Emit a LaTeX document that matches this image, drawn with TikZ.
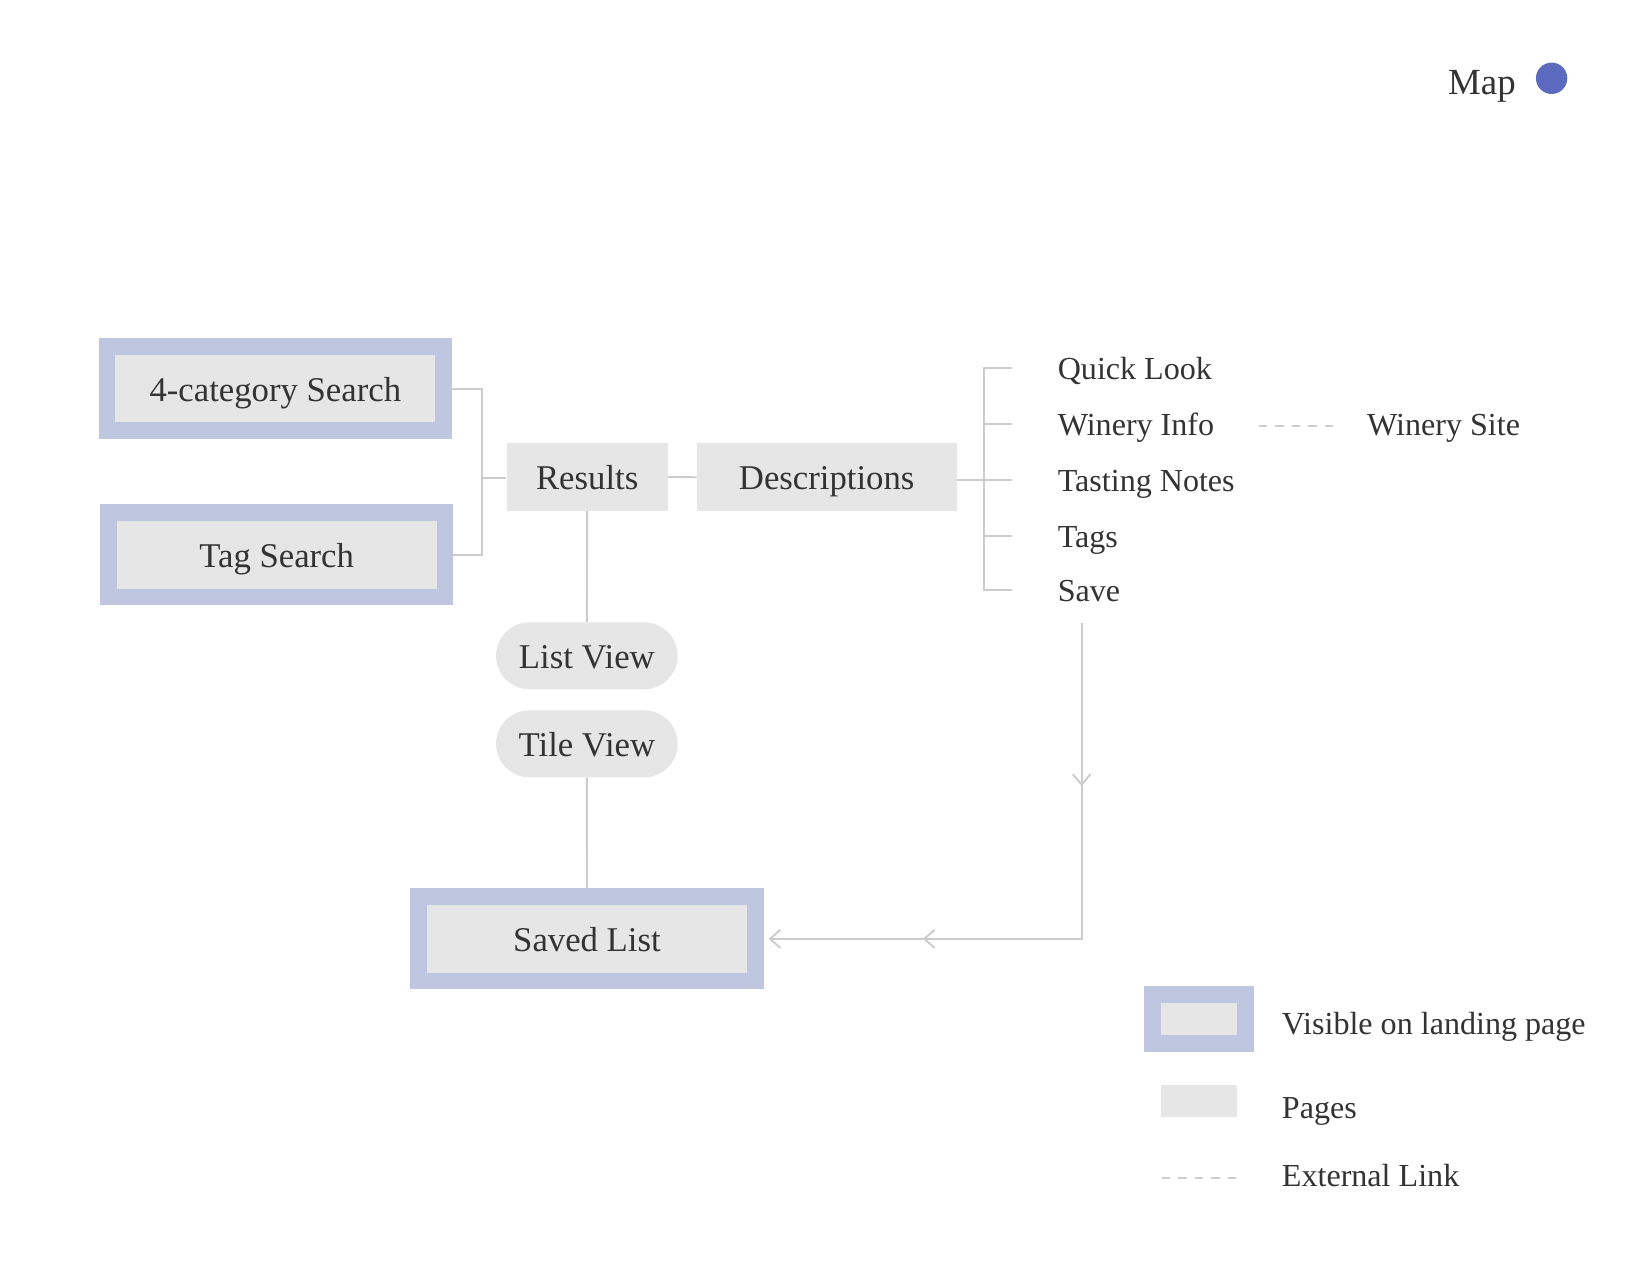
\documentclass[tikz,border=0pt]{standalone}
\usepackage{fontspec}
\setmainfont{Liberation Serif}
\usetikzlibrary{arrows.meta,decorations.markings}
\definecolor{lavender}{RGB}{191,198,224}
\definecolor{pagegray}{RGB}{230,230,230}
\definecolor{linegray}{RGB}{204,204,204}
\definecolor{ink}{RGB}{51,51,51}
\definecolor{mapdot}{RGB}{92,106,191}
\begin{document}
\begin{tikzpicture}[x=1pt,y=-1pt,
  chev/.tip={Straight Barb[length=10pt,width=17pt]},
  boxtext/.style={font=\fontsize{33pt}{40pt}\selectfont, text=ink, text height=24pt, text depth=0pt},
  landing/.style={boxtext, draw=lavender, line width=16pt, fill=pagegray, inner sep=0pt, minimum width=320pt, minimum height=80pt},
  pagebox/.style={boxtext, fill=pagegray, inner sep=0pt, minimum height=64.6pt},
  pill/.style={pagebox, rounded corners=31.8pt, minimum width=172.6pt, minimum height=63.6pt},
  sidetext/.style={anchor=west, inner sep=0pt, font=\fontsize{30.5pt}{38pt}\selectfont, text=ink, text height=22pt, text depth=0pt},
  conn/.style={color=linegray, line width=1.8pt},
  extlink/.style={color=linegray, line width=1.7pt, dash pattern=on 8pt off 7.7pt},
]
\fill[white] (0,0) rectangle (1568,1211.7);
\useasboundingbox (0,0) rectangle (1568,1211.7);

% title
\node[sidetext, font=\fontsize{35pt}{42pt}\selectfont] (map) at (1376,78.4) {Map};
\node[circle, fill=mapdot, minimum size=29.8pt, inner sep=0pt] (dot) at (1474.5,74.4) {};

% main boxes
\node[landing] (cat) at (261.65,369.5) {4-category Search};
\node[landing] (tag) at (262.9,527.25) {Tag Search};
\node[pagebox, minimum width=153pt] (res) at (558,453.3) {Results};
\node[pagebox, minimum width=247pt] (desc) at (785.6,453.5) {Descriptions};
\node[pill] (list) at (557.7,623.2) {List View};
\node[pill] (tile) at (557.7,706.9) {Tile View};
\node[landing] (saved) at (557.8,892.2) {Saved List};

% description items
\node[sidetext] (ql) at (1005,349.4) {Quick Look};
\node[sidetext] (wi) at (1005,402.9) {Winery Info};
\node[sidetext] (tn) at (1005,456.1) {Tasting Notes};
\node[sidetext] (tg) at (1005,509.4) {Tags};
\node[sidetext] (sv) at (1005,560.7) {Save};
\node[sidetext] (ws) at (1299,402.9) {Winery Site};

% connectors left
\coordinate (jl) at (457.7,453.9);
\draw[conn] (cat.east) -| (jl) |- (tag.east);
\draw[conn] (jl) -- (jl -| res.west);
\draw[conn] (res.east) -- (desc.west);
\draw[conn] (res.south) -- (list.north);
\draw[conn] (tile.south) -- (saved.north);

% bracket right
\coordinate (jr) at (934.8,456.1);
\draw[conn] (desc.east |- jr) -- (jr);
\draw[conn] ([xshift=-43.3pt]ql.west) -- (jr |- ql.west) -- (jr |- sv.west) -- ([xshift=-43.3pt]sv.west);
\foreach \n in {wi,tn,tg} \draw[conn] (jr |- \n.west) -- ([xshift=-43.3pt]\n.west);

% external link
\draw[extlink] ([xshift=-103pt,yshift=-1.9pt]ws.west) -- ([xshift=-32.2pt,yshift=-1.9pt]ws.west);

% save arrow
\coordinate (savestart) at (1027.9,592);
\draw[conn, -{chev}, shorten >=4.4pt, postaction={decorate},
  decoration={markings, mark=at position 155pt with {\arrow{chev}}, mark=at position 451.3pt with {\arrow{chev}}}]
  (savestart) |- (saved.east);

% legend
\node[landing, minimum width=88.7pt, minimum height=46.4pt] (legland) at (1139.4,968.2) {};
\node[pagebox, minimum width=72.5pt, minimum height=30.4pt] (legpage) at (1139.5,1046.6) {};
\node[sidetext] (leglandtxt) at (1218,972.5) {Visible on landing page};
\node[sidetext] (legpagetxt) at (1218,1051.7) {Pages};
\node[sidetext] (leglinktxt) at (1218,1116.6) {External Link};
\draw[extlink] ([xshift=-114pt,yshift=-2.5pt]leglinktxt.west) -- ([xshift=-42.2pt,yshift=-2.5pt]leglinktxt.west);
\end{tikzpicture}
\end{document}
